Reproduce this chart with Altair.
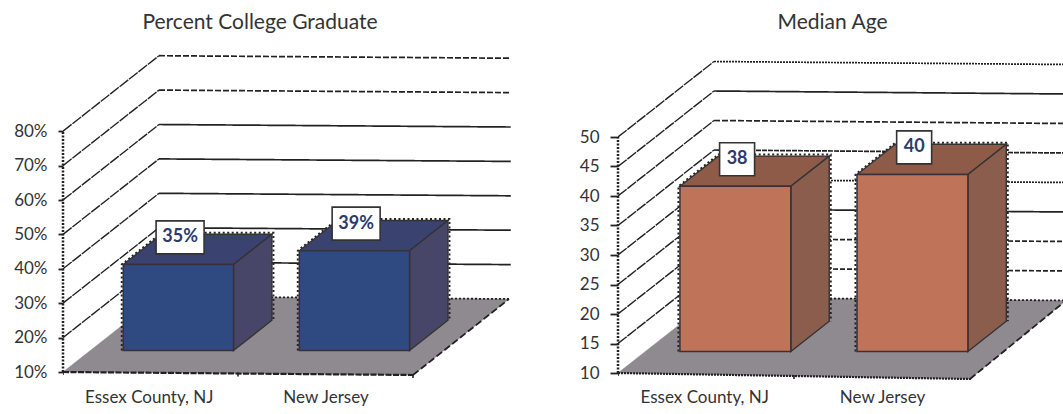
import altair as alt
import pandas as pd

# Chart content
categories = ["Essex County, NJ", "New Jersey"]
college_values = [35, 39]
age_values = [38, 40]
college_ticks = [10, 20, 30, 40, 50, 60, 70, 80]
age_ticks = [10, 15, 20, 25, 30, 35, 40, 45, 50]
college_grid_dash = {80: [6, 2], 70: [6, 2], 60: [], 50: [], 40: [], 30: [], 20: []}
age_grid_dash = {50: [2, 1], 45: [], 40: [6, 2], 35: [5, 1], 30: [2, 1],
                 25: [], 20: [5, 2], 15: [5, 2]}

FONT = "Lato"
INK = "#222222"
TEXT = "#333333"
FLOOR = "#8f8a90"
BAR_START, BAR_END = 0.094, 0.409
BAR_STEP = 0.503
DEPTH_FRONT, DEPTH_BACK = 0.285, 0.685


def polygon_rows(corners):
    """Slice a convex polygon into x / y / y2 rows for an area mark."""
    rows = []
    n = len(corners)
    for px in sorted({c[0] for c in corners}):
        hits = []
        for i in range(n):
            (x0, y0), (x1, y1) = corners[i], corners[(i + 1) % n]
            if min(x0, x1) <= px <= max(x0, x1):
                if x0 == x1:
                    hits += [y0, y1]
                else:
                    hits.append(y0 + (y1 - y0) * (px - x0) / (x1 - x0))
        rows.append({"x": px, "y": min(hits), "y2": max(hits)})
    return pd.DataFrame(rows)


def panel(title, title_dx, values, ticks, grid_dash, suffix, px_per_unit, span, plot_w,
          bottom_gap, tilt_front, tilt_back, box_w, colors, floor_dash, tick_len, bar_shift):
    dx_depth, dy_depth = 96, 75.5
    plot_h = 335
    base = ticks[0]
    y_dom = [base - bottom_gap / px_per_unit, base + (plot_h - bottom_gap) / px_per_unit]
    label_expr = f"datum.value < {span / 2} ? '{categories[0]}' : '{categories[1]}'"
    x_axis = alt.Axis(values=[0.245 * span, 0.75 * span], labelExpr=label_expr, domain=False,
                      ticks=False, grid=False, labelFont=FONT, labelFontSize=17,
                      labelColor=TEXT, labelPadding=9, labelOverlap=False, labelFlush=False)
    y_axis = alt.Axis(values=ticks, labelExpr=f"datum.value + '{suffix}'", domain=False,
                      grid=False, tickSize=tick_len, tickWidth=1.8, tickColor=INK, labelFont=FONT,
                      labelFontSize=17, labelColor=TEXT, labelPadding=11)
    x_enc = alt.X("x:Q", title=None, axis=x_axis, scale=alt.Scale(domain=[0, plot_w], nice=False))
    y_enc = alt.Y("y:Q", title=None, axis=y_axis,
                  scale=alt.Scale(domain=y_dom, nice=False, zero=False))

    def project(frac, value, depth, tilted=True):
        tilt = (tilt_front + (tilt_back - tilt_front) * depth) * frac if tilted else 0
        return (frac * span + depth * dx_depth,
                value + (depth * dy_depth - tilt) / px_per_unit)

    def polyline(points, dash, width=1.4, color=INK, clip=True):
        frame = pd.DataFrame([{"x": p[0], "y": p[1], "i": i} for i, p in enumerate(points)])
        return alt.Chart(frame).mark_line(
            color=color, strokeWidth=width, strokeDash=dash or [1, 0], clip=clip
        ).encode(x=x_enc, y=y_enc, order="i:Q")

    def face(corners, fill, stroke="#333333", width=1.4):
        return alt.Chart(polygon_rows(corners)).mark_area(
            color=fill, stroke=stroke, strokeWidth=width, opacity=1, clip=True
        ).encode(x=x_enc, y=y_enc, y2=alt.Y2("y2:Q"))

    layers = []

    # Wall gridlines: the side-wall diagonal and the back-wall run of each value
    for v, dash in grid_dash.items():
        layers.append(polyline([project(0, v, 0), project(0, v, 1)], [11, 1]))
        layers.append(polyline([project(0, v, 1), project(1.005, v, 1)], dash, 1.7))

    # Floor and its edges
    corners = [project(0, base, 0), project(1, base, 0), project(1, base, 1), project(0, base, 1)]
    layers.append(face(corners, FLOOR, stroke=FLOOR, width=0.5))
    layers.append(polyline([corners[3], corners[2]], [2, 2], 1.8))
    layers.append(polyline([corners[1], corners[2]], [7, 3], 1.8))
    layers.append(polyline([corners[0], corners[1]], floor_dash, 2.2))
    for frac in (0, 0.5, 1):
        fx, fy = project(frac, base, 0)
        layers.append(polyline([(fx, fy + 1 / px_per_unit), (fx, fy - 3 / px_per_unit)], [], 1.6))

    # Value axis line
    layers.append(polyline([project(0, base, 0), project(0, ticks[-1], 0)], [2, 1.5], 2.5, clip=False))

    # Bars and value labels
    for i, value in enumerate(values):
        lo = BAR_START + i * BAR_STEP + bar_shift / span
        hi = BAR_END + i * BAR_STEP + bar_shift / span
        fl = project(lo, value, DEPTH_FRONT, False)
        fr = project(hi, value, DEPTH_FRONT, False)
        bl = project(lo, value, DEPTH_BACK, False)
        br = project(hi, value, DEPTH_BACK, False)
        fb = project(hi, base, DEPTH_FRONT, False)
        bb = project(hi, base, DEPTH_BACK, False)
        fbl = project(lo, base, DEPTH_FRONT, False)

        # Dotted outline around the far edges of the bar
        layers.append(polyline([(fbl[0] - 1.5, fbl[1]), (fl[0] - 1.5, fl[1]), (bl[0], bl[1] + 1.5 / px_per_unit),
                                (br[0] + 1.5, br[1] + 1.5 / px_per_unit), (bb[0] + 1.5, bb[1])], [2, 2.5], 2))
        layers.append(face([fl, fr, br, bl], colors["top"]))
        layers.append(face([fb, fr, br, bb], colors["side"]))
        front = pd.DataFrame([{"x": fl[0], "x2": fr[0], "y": fl[1], "y2": fbl[1]}])
        layers.append(alt.Chart(front).mark_rect(color=colors["front"], stroke="#3a3038", strokeWidth=1.5).encode(
            x=x_enc, x2=alt.X2("x2:Q"), y=y_enc, y2=alt.Y2("y2:Q")))

        # The label sits up and to the left of the centre of the bar's top face
        cx, cy = project((lo + hi) / 2, value, (DEPTH_FRONT + DEPTH_BACK) / 2, False)
        cx -= 17.5
        cy += 12 / px_per_unit
        half_h = 16.5 / px_per_unit
        box = pd.DataFrame([{"x": cx - box_w / 2, "x2": cx + box_w / 2, "y": cy - half_h, "y2": cy + half_h}])
        layers.append(alt.Chart(box).mark_rect(color="white", stroke="#333333", strokeWidth=1.6).encode(
            x=x_enc, x2=alt.X2("x2:Q"), y=y_enc, y2=alt.Y2("y2:Q")))
        text = pd.DataFrame([{"x": cx, "y": cy, "t": f"{value}{suffix}"}])
        layers.append(alt.Chart(text).mark_text(
            font=FONT, fontWeight="bold", fontSize=18, color="#2c3a6e", baseline="middle", align="center"
        ).encode(x=x_enc, y=y_enc, text="t:N"))

    return alt.layer(*layers).properties(
        width=plot_w, height=plot_h,
        title=alt.Title(title, dx=title_dx, offset=12, font=FONT, fontSize=21, fontWeight="normal", color=TEXT),
    )


BLUES = {"front": "#2f4a80", "top": "#3a4270", "side": "#474668"}
CLAYS = {"front": "#bf7358", "top": "#8e5b49", "side": "#8a5d4d"}

left = panel("Percent College Graduate", -28, college_values, college_ticks, college_grid_dash, "%",
             3.44, 350, 450, 8, 3, 2.5, 48, BLUES, [6, 1.5], 5, 0)
right = panel("Median Age", -8, age_values, age_ticks, age_grid_dash, "",
              5.9, 352, 445, 7, 6, 3, 35, CLAYS, [2, 1], 8, 1.5)

chart = alt.hconcat(left, right, spacing=66).properties(
    padding={"left": 13, "top": 12, "right": 0, "bottom": 6},
    background="white",
).configure_view(stroke=None)

chart.save("out.html", embed_options={"renderer": "svg", "actions": False})
